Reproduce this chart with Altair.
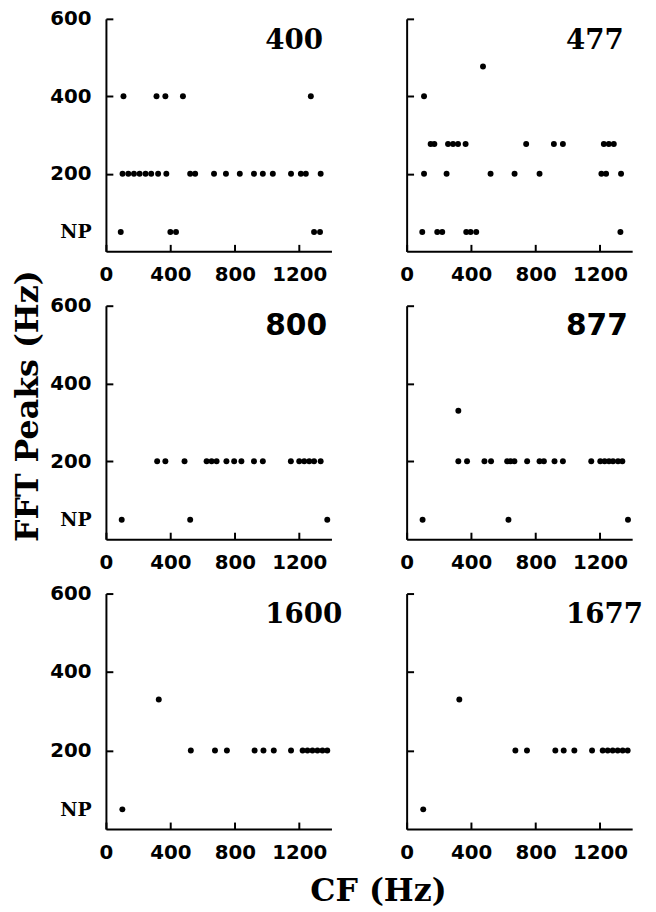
import altair as alt
import pandas as pd

# Panel labels (stimulus frequency, Hz)
PANELS = ["400", "477", "800", "877", "1600", "1677"]

# FFT peak value used for "no peak"
NP = 50

# CF (Hz) of each unit, grouped by the FFT peak (Hz) it showed
P400 = {
    400: [109, 314, 369, 478, 1272],
    200: [103, 139, 174, 209, 246, 281, 324, 375, 523, 554, 671, 745, 831,
          919, 974, 1036, 1149, 1210, 1241, 1333],
    NP: [92, 400, 435, 1292, 1329],
}
P477 = {
    477: [474],
    400: [108],
    277: [149, 172, 257, 288, 319, 366, 742, 914, 970, 1224, 1255, 1286],
    200: [108, 248, 521, 670, 825, 1209, 1238, 1331],
    NP: [97, 190, 221, 370, 397, 432, 1327],
}
P800 = {
    200: [318, 369, 488, 625, 656, 687, 748, 796, 841, 919, 974, 1148, 1200,
          1231, 1262, 1292, 1333],
    NP: [98, 523, 1374],
}
P877 = {
    330: [321],
    200: [321, 375, 483, 524, 624, 645, 669, 748, 825, 852, 918, 970, 1146,
          1202, 1229, 1256, 1281, 1312, 1339],
    NP: [99, 632, 1374],
}
P1600 = {
    330: [328],
    200: [527, 677, 751, 923, 978, 1042, 1149, 1221, 1251, 1282, 1313, 1344, 1374],
    NP: [102],
}
P1677 = {
    330: [327],
    200: [675, 747, 923, 975, 1041, 1151, 1217, 1248, 1279, 1310, 1341, 1372],
    NP: [103],
}
DATA = [P400, P477, P800, P877, P1600, P1677]
SERIF = "DejaVu Serif"
NUM_FONT = "DejaVu Sans"
LABEL_FONTS = [SERIF, SERIF, NUM_FONT, NUM_FONT, SERIF, SERIF]
LABEL_SIZES = [28, 28, 30, 30, 28, 28]

X_TICKS = [0, 400, 800, 1200]
Y_TICKS = [NP, 200, 400, 600]

W = 228
ROW_H = [235, 236, 238]
TICK = {"expr": "-7"}
IS_NP = f"datum.value == {NP}"


def build(i):
    rows = DATA[i]
    recs = [{"cf": c, "peak": p} for p, cfs in rows.items() for c in cfs]
    df = pd.DataFrame(recs)
    left = i % 2 == 0
    bottom_left = i == 4
    mid_left = i == 2

    x_axis = dict(
        values=X_TICKS, format="d", grid=False, domainColor="black", domainWidth=2,
        tickColor="black", tickWidth=2, tickSize=TICK,
        labelFont=NUM_FONT, labelFontWeight="bold", labelFontSize=20,
        labelColor="black", labelPadding=21, labelFlush=False,
    )
    if bottom_left:
        x_axis.update(title="CF (Hz)", titleX=275, titleY=72,
                      titleAlign="center", titleBaseline="alphabetic",
                      titleFont=SERIF, titleFontSize=32, titleFontWeight="bold",
                      titleColor="black")
    else:
        x_axis["title"] = None

    y_axis = dict(
        values=Y_TICKS, grid=False, domainColor="black", domainWidth=2,
        tickColor="black", tickWidth=2, tickSize=TICK,
        tickOpacity={"condition": {"test": IS_NP, "value": 0}, "value": 1},
        labels=left, labelFlush=False, labelBaseline="middle",
        labelExpr=f"{IS_NP} ? 'NP' : datum.label",
        labelFont={"condition": {"test": IS_NP, "value": SERIF}, "value": NUM_FONT},
        labelFontSize={"condition": {"test": IS_NP, "value": 19}, "value": 20},
        labelFontWeight="bold", labelColor="black", labelPadding=22,
    )
    if mid_left:
        y_axis.update(title="FFT Peaks (Hz)", titleX=-79, titleY=101,
                      titleAngle=270, titleAlign="center", titleBaseline="middle",
                      titleFont=SERIF, titleFontSize=32, titleFontWeight="bold",
                      titleColor="black")
    else:
        y_axis["title"] = None

    pts = alt.Chart(df).mark_circle(size=36, color="black", opacity=1).encode(
        x=alt.X("cf:Q", scale=alt.Scale(domain=[0, 1400], nice=False, zero=False),
                axis=alt.Axis(**x_axis)),
        y=alt.Y("peak:Q", scale=alt.Scale(domain=[0, 600], nice=False),
                axis=alt.Axis(**y_axis)),
    )
    lab = alt.Chart(pd.DataFrame({"label": [PANELS[i]]})).mark_text(
        align="left", baseline="alphabetic", font=LABEL_FONTS[i],
        fontSize=LABEL_SIZES[i], fontWeight="bold", color="black",
    ).encode(text="label:N", x=alt.value(161), y=alt.value(30))
    return alt.layer(pts, lab).properties(width=W, height=ROW_H[i // 2])


chart = alt.concat(
    *[build(i) for i in range(6)], columns=2,
    spacing={"row": 55, "column": 76}, bounds="flush",
).properties(
    padding={"left": 3, "top": -4, "right": 5, "bottom": 5},
    background="white",
).configure_view(stroke=None)

chart.save("out.html", embed_options={"renderer": "svg", "actions": False})
